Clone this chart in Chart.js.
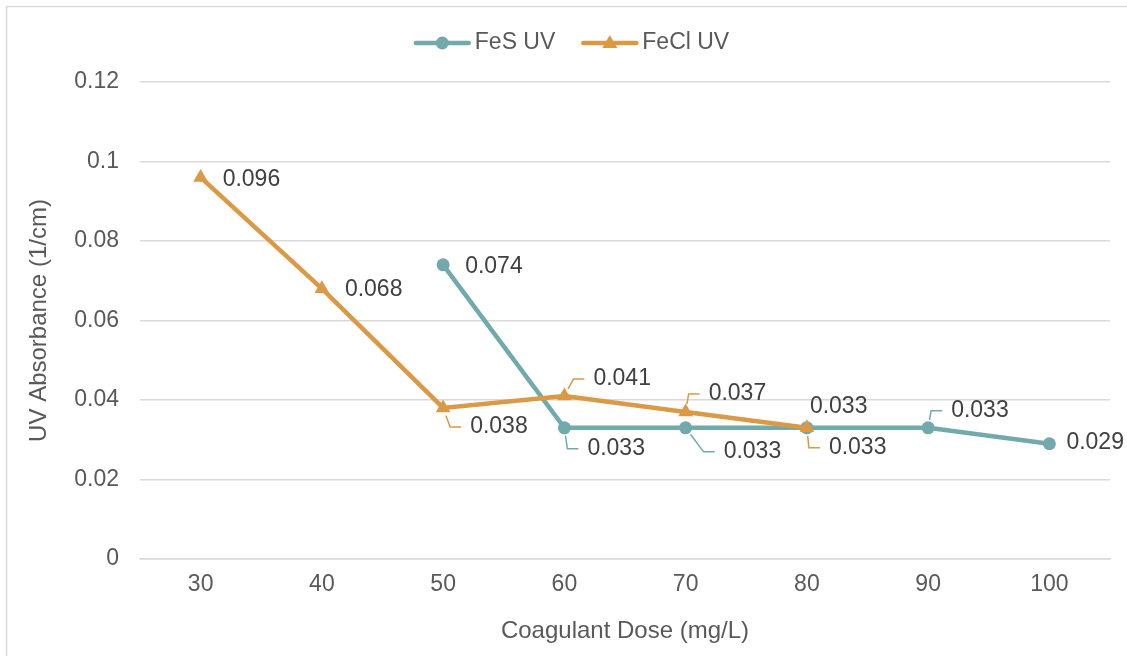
<!DOCTYPE html>
<html>
<head>
<meta charset="utf-8">
<script src="https://cdn.jsdelivr.net/npm/chart.js@4.4.0/dist/chart.umd.min.js"></script>
<style>
  html, body { margin: 0; padding: 0; background: #fff; overflow: hidden; }
  canvas { display: block; }
</style>
</head>
<body>
<canvas id="grafico" width="1127" height="656"></canvas>
<script>
// dados
const doses = ['30', '40', '50', '60', '70', '80', '90', '100'];
const fesUV = [null, null, 0.074, 0.033, 0.033, 0.033, 0.033, 0.029];
const feclUV = [0.096, 0.068, 0.038, 0.041, 0.037, 0.033, null, null];
const yTicks = [0, 0.02, 0.04, 0.06, 0.08, 0.1, 0.12];

// onde fica o rotulo de cada ponto: [dx, dy, com linha guia]
const fesRotulos = [null, null, [22, 2, false], [23, 21, true], [38, 24, true], [3, -21, false], [23, -17, true], [17, -1, false]];
const feclRotulos = [[22, 2, false], [23, 1, false], [27, 19, true], [29, -17, true], [23, -18, true], [22, 20, true], null, null];

const corFeS = '#72a9ac';
const corFeCl = '#da9944';
const fonte = "'Liberation Sans', Arial, sans-serif";

const fundo = {
    id: 'fundo',
    beforeDraw(chart) {
        const ctx = chart.ctx;
        ctx.save();
        ctx.fillStyle = '#fff';
        ctx.fillRect(0, 0, chart.width, chart.height);
        ctx.strokeStyle = '#d9d9d9';
        ctx.lineWidth = 1.5;
        ctx.strokeRect(6.5, 6.5, chart.width + 20, chart.height + 20);
        ctx.restore();
    }
};

const rotulos = {
    id: 'rotulos',
    afterDatasetsDraw(chart) {
        const ctx = chart.ctx;
        ctx.save();
        ctx.font = '23px ' + fonte;
        ctx.textBaseline = 'middle';
        ctx.textAlign = 'left';
        chart.data.datasets.forEach((ds, i) => {
            const meta = chart.getDatasetMeta(i);
            meta.data.forEach((pt, j) => {
                const cfg = ds.rotulos[j];
                if (ds.data[j] == null || !cfg) return;
                const tx = pt.x + cfg[0];
                const ty = pt.y + cfg[1];
                if (cfg[2]) {
                    const ex = tx - 20;
                    const ang = Math.atan2(ty - pt.y, ex - pt.x);
                    ctx.strokeStyle = ds.borderColor;
                    ctx.lineWidth = 1.5;
                    ctx.beginPath();
                    ctx.moveTo(pt.x + Math.cos(ang) * 8, pt.y + Math.sin(ang) * 8);
                    ctx.lineTo(ex, ty);
                    ctx.lineTo(tx - 9, ty);
                    ctx.stroke();
                }
                ctx.fillStyle = '#404040';
                ctx.fillText(ds.data[j].toFixed(3), tx, ty);
            });
        });
        ctx.restore();
    }
};

const legenda = {
    id: 'legenda',
    afterDraw(chart) {
        const ctx = chart.ctx;
        ctx.save();
        ctx.font = '23px ' + fonte;
        ctx.textBaseline = 'middle';
        const itens = [chart.data.datasets[0], chart.data.datasets[1]];
        const larguras = itens.map(d => 57 + 4 + ctx.measureText(d.label).width);
        const total = larguras[0] + 26 + larguras[1];
        let x = chart.width / 2 - total / 2 + 8;
        const y = 43;
        itens.forEach((d, k) => {
            ctx.strokeStyle = d.borderColor;
            ctx.lineWidth = 4.5;
            ctx.lineCap = 'round';
            ctx.beginPath();
            ctx.moveTo(x + 2, y);
            ctx.lineTo(x + 55, y);
            ctx.stroke();
            ctx.fillStyle = d.borderColor;
            ctx.beginPath();
            if (d.pointStyle === 'triangle') {
                ctx.moveTo(x + 28.5, y - 8);
                ctx.lineTo(x + 36, y + 5);
                ctx.lineTo(x + 21, y + 5);
                ctx.closePath();
            } else {
                ctx.arc(x + 28.5, y, 6.5, 0, Math.PI * 2);
            }
            ctx.fill();
            ctx.fillStyle = '#595959';
            ctx.fillText(d.label, x + 61, y);
            x += larguras[k] + 26;
        });
        ctx.restore();
    }
};

const grafico = new Chart(document.getElementById('grafico'), {
    type: 'line',
    data: {
        labels: doses,
        datasets: [{
            label: 'FeS UV',
            data: fesUV,
            rotulos: fesRotulos,
            borderColor: corFeS,
            backgroundColor: corFeS,
            borderWidth: 4.5,
            pointStyle: 'circle',
            pointRadius: 6.5,
            pointBorderWidth: 0,
            order: 1
        }, {
            label: 'FeCl UV',
            data: feclUV,
            rotulos: feclRotulos,
            borderColor: corFeCl,
            backgroundColor: corFeCl,
            borderWidth: 4.5,
            pointStyle: 'triangle',
            pointRadius: 8.5,
            pointBorderWidth: 0,
            order: 0
        }]
    },
    options: {
        responsive: false,
        animation: false,
        layout: { padding: { left: 0, right: 17, top: 82, bottom: 0 } },
        plugins: {
            legend: { display: false },
            tooltip: { enabled: false }
        },
        scales: {
            x: {
                offset: true,
                grid: { display: false, drawTicks: false, offset: true },
                border: { display: true, color: '#d9d9d9', width: 1.5 },
                ticks: { color: '#595959', font: { family: fonte, size: 23 }, padding: 12 },
                title: {
                    display: true,
                    text: 'Coagulant Dose (mg/L)',
                    color: '#595959',
                    font: { family: fonte, size: 24 },
                    padding: { top: 0, bottom: 10 }
                },
                afterFit(scale) { scale.height = 97; }
            },
            y: {
                min: 0,
                max: 0.12,
                afterBuildTicks(scale) { scale.ticks = yTicks.map(v => ({ value: v })); },
                grid: { color: '#d9d9d9', lineWidth: 1.5, drawTicks: false },
                border: { display: false },
                ticks: {
                    color: '#595959',
                    font: { family: fonte, size: 23 },
                    padding: 21,
                    callback: v => String(+v.toFixed(2))
                },
                title: {
                    display: true,
                    text: 'UV Absorbance (1/cm)',
                    color: '#595959',
                    font: { family: fonte, size: 24 },
                    padding: { top: 25, bottom: 0 }
                },
                afterFit(scale) { scale.width = 140; }
            }
        }
    },
    plugins: [fundo, rotulos, legenda]
});
</script>
</body>
</html>
